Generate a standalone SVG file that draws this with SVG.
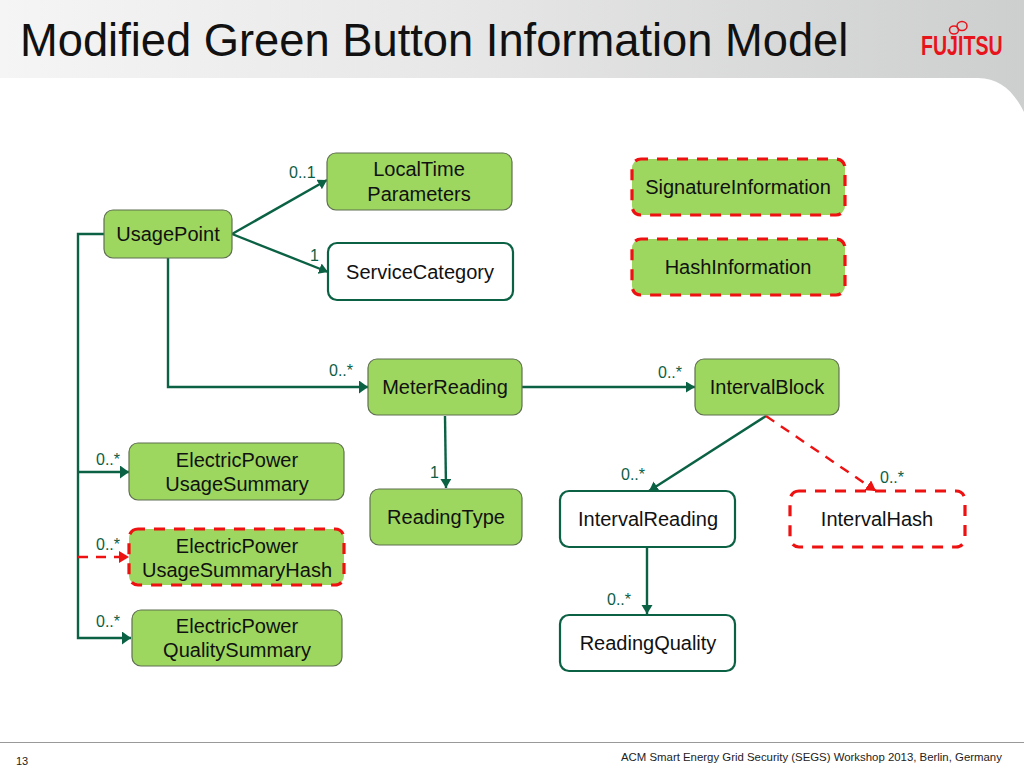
<svg xmlns="http://www.w3.org/2000/svg" width="1024" height="768" viewBox="0 0 1024 768">
<style>
text{font-family:"Liberation Sans",Arial,sans-serif}
.l{font-size:20px;fill:#111;text-anchor:middle}
.m{font-size:16px;fill:#0b5e45}
.g{fill:#9dd75f;stroke:#5f7050;stroke-width:1.2}
.w{fill:#fff;stroke:#0a6144;stroke-width:2.2}
.gd{fill:#9dd75f;stroke:#ee1111;stroke-width:3.2;stroke-dasharray:11 9;stroke-dashoffset:4}
.wd{fill:#fff;stroke:#ee1111;stroke-width:3.2;stroke-dasharray:11 9;stroke-dashoffset:4}
.c{fill:none;stroke:#0a6144;stroke-width:2.4}
.r{fill:none;stroke:#ee1111;stroke-width:2.4;stroke-dasharray:10 8}
</style>
<defs>
<linearGradient id="hdr" x1="0" x2="1" y1="0" y2="0"><stop offset="0" stop-color="#f4f5f4"/><stop offset="0.45" stop-color="#e6e7e6"/><stop offset="1" stop-color="#cdcfce"/></linearGradient>
<marker id="as" markerUnits="userSpaceOnUse" markerWidth="10" markerHeight="12" refX="9" refY="5.500" orient="auto"><path d="M0 0L9 5.500L0 11Z" fill="#0a6144"/></marker>
<marker id="ag" markerUnits="userSpaceOnUse" markerWidth="12" markerHeight="14" refX="9" refY="6.500" orient="auto"><path d="M0 0L9 6.500L0 13Z" fill="#0a6144"/></marker>
<marker id="ar" markerUnits="userSpaceOnUse" markerWidth="12" markerHeight="14" refX="10" refY="6" orient="auto"><path d="M0 0L10 6L0 12Z" fill="#ee1111"/></marker>
</defs>
<rect width="1024" height="768" fill="#fff"/>
<path d="M0 0H1024V112C1014 92 1000 78 978 78H0Z" fill="url(#hdr)"/>
<text x="20" y="56" font-size="45.300" fill="#111">Modified Green Button Information Model</text>
<g id="logo"><text transform="translate(921 55) scale(0.7 1)" font-size="28" font-weight="700" fill="#e8141c">FUJITSU</text><ellipse cx="954" cy="30" rx="4.500" ry="4" fill="none" stroke="#e8141c" stroke-width="1.500"/><ellipse cx="962" cy="26" rx="5" ry="4.500" fill="none" stroke="#e8141c" stroke-width="1.500"/></g>

<g id="connectors">
<path class="c" d="M232 234L327 180" marker-end="url(#as)"/>
<path class="c" d="M232 234L328 272" marker-end="url(#as)"/>
<path class="c" d="M168 258V387H368" marker-end="url(#ag)"/>
<path class="c" d="M104 234H78V638H131" marker-end="url(#ag)"/>
<path class="c" d="M78 472H129" marker-end="url(#ag)"/>
<path class="r" d="M78 557H129" marker-end="url(#ar)"/>
<path class="c" d="M522 387H695" marker-end="url(#as)"/>
<path class="c" d="M445 416L446 488" marker-end="url(#as)"/>
<path class="c" d="M766 416L649 491" marker-end="url(#as)"/>
<path class="r" d="M766 416L876 491" marker-end="url(#ar)"/>
<path class="c" d="M647 548V614" marker-end="url(#as)"/>
</g>
<g id="labels">
<text class="m" x="289" y="178">0..1</text><text class="m" x="310" y="261">1</text>
<text class="m" x="329" y="376">0..*</text><text class="m" x="658" y="378">0..*</text>
<text class="m" x="430" y="478">1</text><text class="m" x="621" y="480">0..*</text>
<text class="m" x="880" y="483">0..*</text><text class="m" x="607" y="605">0..*</text>
<text class="m" x="96" y="465">0..*</text><text class="m" x="96" y="550">0..*</text><text class="m" x="96" y="627">0..*</text>
</g>
<g id="LocalTimeParameters"><rect class="g" x="327" y="153" width="185" height="57" rx="9"/><text class="l" x="419" y="176">LocalTime</text><text class="l" x="419" y="201">Parameters</text></g>
<g id="SignatureInformation"><rect class="gd" x="632" y="159" width="213" height="56" rx="9"/><text class="l" x="738" y="194">SignatureInformation</text></g>
<g id="UsagePoint"><rect class="g" x="104" y="210" width="128" height="48" rx="9"/><text class="l" x="168" y="241">UsagePoint</text></g>
<g id="ServiceCategory"><rect class="w" x="328" y="243" width="185" height="57" rx="9"/><text class="l" x="420" y="279">ServiceCategory</text></g>
<g id="HashInformation"><rect class="gd" x="632" y="239" width="213" height="56" rx="9"/><text class="l" x="738" y="274">HashInformation</text></g>
<g id="MeterReading"><rect class="g" x="368" y="359" width="154" height="56" rx="9"/><text class="l" x="445" y="394">MeterReading</text></g>
<g id="IntervalBlock"><rect class="g" x="695" y="359" width="144" height="56" rx="9"/><text class="l" x="767" y="394">IntervalBlock</text></g>
<g id="ElectricPowerUsageSummary"><rect class="g" x="129" y="443" width="215" height="57" rx="9"/><text class="l" x="237" y="467">ElectricPower</text><text class="l" x="237" y="491">UsageSummary</text></g>
<g id="ReadingType"><rect class="g" x="370" y="489" width="152" height="56" rx="9"/><text class="l" x="446" y="524">ReadingType</text></g>
<g id="IntervalReading"><rect class="w" x="560" y="491" width="175" height="56" rx="9"/><text class="l" x="648" y="526">IntervalReading</text></g>
<g id="IntervalHash"><rect class="wd" x="790" y="491" width="175" height="56" rx="9"/><text class="l" x="877" y="526">IntervalHash</text></g>
<g id="ElectricPowerUsageSummaryHash"><rect class="gd" x="129" y="529" width="215" height="56" rx="9"/><text class="l" x="237" y="553">ElectricPower</text><text class="l" x="237" y="577">UsageSummaryHash</text></g>
<g id="ElectricPowerQualitySummary"><rect class="g" x="132" y="610" width="210" height="56" rx="9"/><text class="l" x="237" y="633">ElectricPower</text><text class="l" x="237" y="657">QualitySummary</text></g>
<g id="ReadingQuality"><rect class="w" x="560" y="615" width="175" height="56" rx="9"/><text class="l" x="648" y="650">ReadingQuality</text></g>
<path d="M0 742.500H1024" stroke="#999" stroke-width="1"/>
<text x="16" y="765" font-size="11" fill="#222">13</text>
<text x="621" y="761" font-size="11.400" fill="#222">ACM Smart Energy Grid Security (SEGS) Workshop 2013, Berlin, Germany</text>
</svg>
